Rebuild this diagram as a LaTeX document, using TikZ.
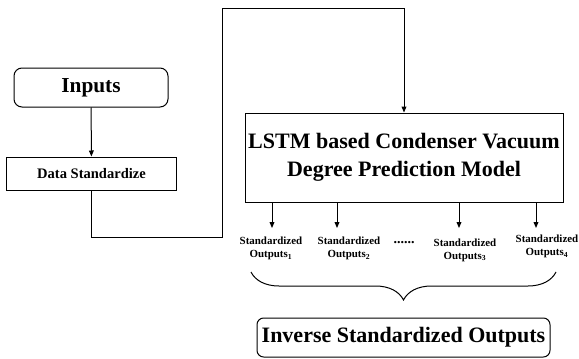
\documentclass[tikz,border=0pt]{standalone}
\usepackage{fontspec}
\setmainfont{Liberation Serif}
\usetikzlibrary{positioning, shapes.geometric, arrows.meta}
\usetikzlibrary{decorations.pathreplacing}

\begin{document}
\begin{tikzpicture} [x=7.5pt, y=7.5pt, line width=0.75pt,
    >={Triangle[length=4.5pt,width=3.6pt]},
    box/.style={draw, rectangle, inner sep=0pt, align=center},
    rbox/.style={box, rounded corners=6pt},
    outlbl/.style={align=center, inner sep=0pt, font=\bfseries\fontsize{8.2}{9.8}\selectfont}]
  \useasboundingbox (0,0) rectangle (57.9,35.8);

  % input side
  \draw (9.1,27.05) node[rbox, minimum width=115.5pt, minimum height=29.25pt,
        font=\bfseries\fontsize{16}{19}\selectfont] (inputs) {Inputs};
  \draw (9.15,18.45) node[box, minimum width=126.75pt, minimum height=24.75pt,
        font=\bfseries\fontsize{10.9}{13}\selectfont] (ds) {Data Standardize};

  % model
  \draw (40.4,20.05) node[box, minimum width=238.5pt, minimum height=66.75pt,
        font=\bfseries\fontsize{16.5}{21}\selectfont] (lstm)
        {LSTM based Condenser Vacuum\\Degree Prediction Model};

  \coordinate (c1) at (22.2,12.1);
  \coordinate (c2) at (22.2,34.9);
  \path (inputs) edge[->] (ds);
  \draw [->] (ds) |- (c1) -- (c2) -| (lstm);

  % standardized outputs
  \coordinate (a1) at (27.2,13.0);
  \coordinate (a2) at (33.7,13.0);
  \coordinate (a3) at (45.9,13.0);
  \coordinate (a4) at (53.6,13.0);
  \foreach \a in {a1,a2,a3,a4}
    \draw [->] (\a |- lstm.south) -- (\a);

  \draw (27.1,10.95) node[outlbl] (o1) {Standardized\\Outputs\textsubscript{1}};
  \draw (34.9,10.95) node[outlbl] (o2) {Standardized\\Outputs\textsubscript{2}};
  \draw (46.5,10.8) node[outlbl] (o3) {Standardized\\Outputs\textsubscript{3}};
  \draw (54.7,11.15) node[outlbl] (o4) {Standardized\\Outputs\textsubscript{4}};
  \draw (40.4,11.55) node[outlbl, font=\bfseries\fontsize{10.5}{12}\selectfont] (dots) {......};

  % brace and result
  \coordinate (b1) at (25.1,8.6);
  \coordinate (b2) at (55.6,8.6);
  \draw [decorate, decoration={brace, mirror, amplitude=21pt}] (b1) -- (b2);

  \draw (40.35,2.05) node[rbox, rounded corners=5pt, minimum width=219.75pt,
        minimum height=29.25pt, font=\bfseries\fontsize{16.5}{19}\selectfont]
        (inv) {Inverse Standardized Outputs};
\end{tikzpicture}
\end{document}
